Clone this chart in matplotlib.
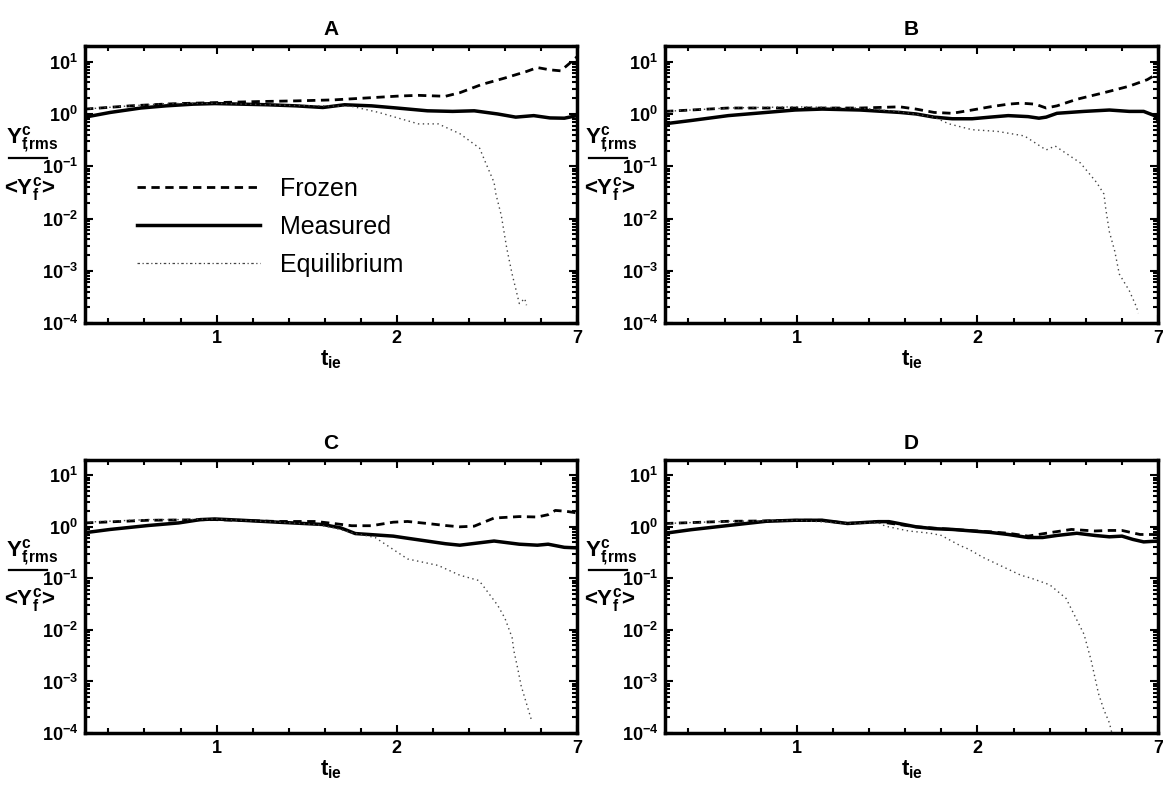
import matplotlib
matplotlib.use('Agg')
import numpy as np
import matplotlib.pyplot as plt
from matplotlib.lines import Line2D
from matplotlib.ticker import FixedLocator, FixedFormatter, MultipleLocator, LogLocator, FuncFormatter, NullFormatter

plt.rcParams['font.family'] = ['Liberation Sans', 'DejaVu Sans']
plt.rcParams['mathtext.fontset'] = 'custom'
plt.rcParams['mathtext.rm'] = 'Liberation Sans:bold'
plt.rcParams['mathtext.it'] = 'Liberation Sans:bold'
plt.rcParams['mathtext.bf'] = 'Liberation Sans:bold'
plt.rcParams['mathtext.default'] = 'bf'

########################################## DATA ##########################################
# x positions on the t_ie axis, ticks at 1, 2, 3 (last one printed as "7")
xtick_pos = [1, 2, 3]
xtick_lab = ['1', '2', '7']
titles = ['A', 'B', 'C', 'D']

a_meas_x = [0.27, 0.41, 0.58, 0.72, 0.87, 0.99, 1.14, 1.28, 1.44, 1.59, 1.71, 1.86, 2.0, 2.17, 2.31, 2.43, 2.56, 2.66, 2.76, 2.85, 2.93, 3.0]
a_meas_y = [0.87, 1.07, 1.30, 1.43, 1.54, 1.58, 1.54, 1.50, 1.43, 1.33, 1.50, 1.43, 1.30, 1.15, 1.12, 1.15, 1.0, 0.87, 0.93, 0.84, 0.83, 0.93]
a_froz_x = [0.27, 0.52, 0.72, 0.79, 1.03, 1.24, 1.44, 1.65, 1.86, 2.02, 2.12, 2.27, 2.35, 2.47, 2.6, 2.72, 2.78, 2.85, 2.91, 2.97, 3.0]
a_froz_y = [1.24, 1.43, 1.55, 1.58, 1.66, 1.73, 1.78, 1.86, 2.05, 2.21, 2.27, 2.18, 2.55, 3.65, 4.87, 6.49, 7.72, 6.98, 6.68, 10.0, 12.4]
a_equi_x = [0.27, 0.52, 0.72, 0.99, 1.44, 1.75, 1.9, 2.12, 2.23, 2.35, 2.46, 2.49, 2.54, 2.55, 2.58, 2.61, 2.64, 2.66, 2.68, 2.71, 2.72]
a_equi_y = [1.24, 1.43, 1.58, 1.6, 1.45, 1.4, 1.07, 0.646, 0.646, 0.42, 0.221, 0.124, 0.049, 0.0295, 0.0115, 0.00275, 0.00087, 0.000457, 0.000237, 0.000295, 0.00022]

b_meas_x = [0.27, 0.415, 0.62, 0.83, 0.99, 1.14, 1.35, 1.57, 1.66, 1.76, 1.86, 1.97, 2.07, 2.17, 2.28, 2.34, 2.38, 2.44, 2.59, 2.73, 2.84, 2.92, 2.98, 3.0]
b_meas_y = [0.65, 0.75, 0.93, 1.07, 1.19, 1.24, 1.19, 1.07, 1.0, 0.87, 0.81, 0.81, 0.87, 0.93, 0.89, 0.83, 0.87, 1.03, 1.12, 1.19, 1.12, 1.12, 0.93, 0.75]
b_froz_x = [0.27, 0.62, 0.99, 1.35, 1.57, 1.66, 1.76, 1.86, 1.97, 2.07, 2.17, 2.24, 2.32, 2.38, 2.44, 2.55, 2.70, 2.84, 2.94, 3.0]
b_froz_y = [1.12, 1.30, 1.30, 1.30, 1.37, 1.24, 1.07, 1.03, 1.19, 1.37, 1.54, 1.61, 1.54, 1.30, 1.43, 1.91, 2.55, 3.40, 4.53, 6.03]
b_equi_x = [0.27, 0.62, 0.99, 1.35, 1.57, 1.76, 1.84, 1.97, 2.11, 2.26, 2.38, 2.43, 2.57, 2.66, 2.70, 2.71, 2.73, 2.76, 2.785, 2.84, 2.88, 2.89]
b_equi_y = [1.12, 1.30, 1.37, 1.30, 1.10, 0.87, 0.65, 0.50, 0.465, 0.38, 0.205, 0.244, 0.1155, 0.0487, 0.0295, 0.0155, 0.0056, 0.00237, 0.00087, 0.00042, 0.000205, 0.000155]

c_meas_x = [0.27, 0.41, 0.62, 0.79, 0.91, 0.99, 1.14, 1.34, 1.59, 1.69, 1.77, 1.98, 2.06, 2.27, 2.35, 2.54, 2.68, 2.78, 2.84, 2.93, 3.0]
c_meas_y = [0.77, 0.89, 1.06, 1.19, 1.38, 1.42, 1.34, 1.23, 1.11, 0.95, 0.74, 0.66, 0.60, 0.47, 0.44, 0.53, 0.46, 0.44, 0.46, 0.40, 0.39]
c_froz_x = [0.27, 0.62, 0.99, 1.34, 1.55, 1.65, 1.75, 1.86, 1.98, 2.06, 2.17, 2.27, 2.35, 2.43, 2.54, 2.68, 2.78, 2.84, 2.88, 2.94, 3.0]
c_froz_y = [1.19, 1.34, 1.38, 1.27, 1.27, 1.16, 1.05, 1.05, 1.23, 1.27, 1.16, 1.06, 1.0, 1.03, 1.48, 1.58, 1.55, 1.72, 2.08, 2.0, 1.86]
c_equi_x = [0.27, 0.62, 0.83, 1.0, 1.34, 1.55, 1.65, 1.75, 1.88, 2.06, 2.23, 2.35, 2.45, 2.47, 2.56, 2.60, 2.64, 2.65, 2.67, 2.69, 2.75]
c_equi_y = [1.23, 1.38, 1.38, 1.42, 1.23, 1.11, 0.96, 0.77, 0.62, 0.238, 0.178, 0.115, 0.092, 0.079, 0.030, 0.0169, 0.0071, 0.0039, 0.00187, 0.00083, 0.000166]

d_meas_x = [0.27, 0.415, 0.62, 0.83, 0.99, 1.14, 1.28, 1.45, 1.51, 1.66, 1.76, 1.86, 1.97, 2.07, 2.17, 2.28, 2.36, 2.44, 2.55, 2.65, 2.73, 2.80, 2.86, 2.92, 3.0]
d_meas_y = [0.75, 0.88, 1.06, 1.28, 1.34, 1.34, 1.16, 1.26, 1.26, 1.0, 0.92, 0.89, 0.83, 0.78, 0.71, 0.62, 0.62, 0.68, 0.75, 0.68, 0.64, 0.66, 0.57, 0.51, 0.53]
d_froz_x = [0.27, 0.62, 0.83, 1.0, 1.14, 1.28, 1.45, 1.66, 1.86, 2.07, 2.17, 2.28, 2.40, 2.52, 2.65, 2.73, 2.80, 2.90, 3.0]
d_froz_y = [1.16, 1.28, 1.30, 1.34, 1.34, 1.16, 1.26, 1.0, 0.89, 0.80, 0.75, 0.66, 0.77, 0.89, 0.83, 0.85, 0.85, 0.71, 0.71]
d_equi_x = [0.27, 0.62, 0.83, 1.0, 1.28, 1.45, 1.49, 1.62, 1.74, 1.80, 1.905, 1.95, 2.03, 2.24, 2.30, 2.40, 2.49, 2.59, 2.63, 2.65, 2.67, 2.70, 2.73, 2.744]
d_equi_y = [1.16, 1.28, 1.30, 1.34, 1.16, 1.20, 1.03, 0.83, 0.75, 0.68, 0.43, 0.37, 0.256, 0.115, 0.10, 0.075, 0.041, 0.0082, 0.0025, 0.0012, 0.00058, 0.00028, 0.000158, 0.0001]

############################################ PLOT ############################################################

def draw_panel(ax, title, mx, my, fx, fy, ex, ey, legend=False):
    l_f, = ax.plot(fx, fy, color='black', linestyle=(0, (3, 2)), linewidth=2.0, label='Frozen')
    l_m, = ax.plot(mx, my, color='black', linestyle='-', linewidth=2.5, label='Measured')
    l_e, = ax.plot(ex, ey, color='#444444', linestyle=(0, (1, 2.5)), linewidth=1.0, label='Equilibrium')

    ax.set_yscale('log')
    ax.set_ylim(1e-4, 20)
    ax.set_xlim(0.27, 3.0)

    ax.xaxis.set_major_locator(FixedLocator(xtick_pos))
    ax.xaxis.set_major_formatter(FixedFormatter(xtick_lab))
    ax.xaxis.set_minor_locator(MultipleLocator(0.2))
    ax.yaxis.set_major_locator(LogLocator(base=10, numticks=10))
    ax.yaxis.set_minor_locator(LogLocator(base=10, subs=np.arange(2, 10), numticks=20))
    ax.yaxis.set_minor_formatter(NullFormatter())
    ax.yaxis.set_major_formatter(FuncFormatter(lambda v, p: r'$10^{%d}$' % int(round(np.log10(v)))))

    ax.tick_params(which='both', direction='in', top=True, right=True, width=1.5)
    ax.tick_params(which='major', length=6, labelsize=13, pad=5)
    ax.tick_params(which='minor', length=3.5)
    for lab in ax.get_xticklabels():
        lab.set_fontweight('bold')
    for sp in ax.spines.values():
        sp.set_linewidth(2.5)

    ax.set_title(title, fontsize=15, fontweight='bold', pad=8)
    ax.set_xlabel(r'$t_{ie}$', fontsize=16, labelpad=1)

    # y label as a hand made fraction, like the scan
    ax.text(-0.108, 0.66, r'$Y^c_{f\!,\!rms}$', transform=ax.transAxes, fontsize=16, ha='center', va='center')
    ax.add_line(Line2D([-0.155, -0.078], [0.595, 0.595], transform=ax.transAxes, color='black',
                       linewidth=1.6, clip_on=False))
    ax.text(-0.112, 0.485, r'<$Y^c_f$>', transform=ax.transAxes, fontsize=16, fontweight='bold',
            ha='center', va='center')

    if legend:
        leg_e = Line2D([], [], color='#444444', linestyle=(0, (2, 2, 1, 2)), linewidth=0.9)
        ax.legend(handles=[l_f, l_m, leg_e], labels=['Frozen', 'Measured', 'Equilibrium'],
                  loc='upper left', bbox_to_anchor=(0.106, 0.527),
                  frameon=False, fontsize=18, handlelength=4.9, handletextpad=0.8,
                  labelspacing=0.55, borderpad=0, borderaxespad=0)


fig = plt.figure(figsize=(11.63, 7.92), dpi=100)
fig.set_facecolor('white')

axA = fig.add_axes([0.0731, 0.592, 0.423, 0.350])
axB = fig.add_axes([0.5718, 0.592, 0.424, 0.350])
axC = fig.add_axes([0.0731, 0.0745, 0.423, 0.345])
axD = fig.add_axes([0.5718, 0.0745, 0.424, 0.345])

draw_panel(axA, titles[0], a_meas_x, a_meas_y, a_froz_x, a_froz_y, a_equi_x, a_equi_y, legend=True)
draw_panel(axB, titles[1], b_meas_x, b_meas_y, b_froz_x, b_froz_y, b_equi_x, b_equi_y)
draw_panel(axC, titles[2], c_meas_x, c_meas_y, c_froz_x, c_froz_y, c_equi_x, c_equi_y)
draw_panel(axD, titles[3], d_meas_x, d_meas_y, d_froz_x, d_froz_y, d_equi_x, d_equi_y)

plt.savefig('out.png', dpi=100, facecolor=fig.get_facecolor())
